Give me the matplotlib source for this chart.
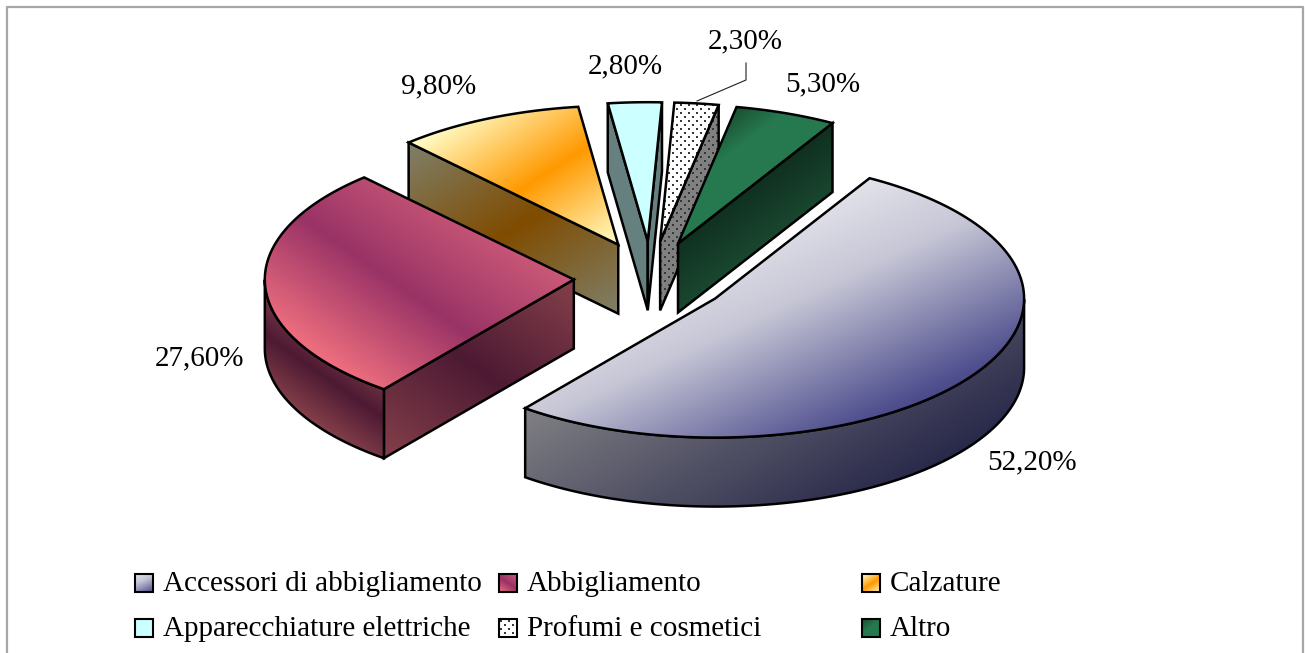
"""Exploded 3D style pie (quota per settore), drawn by hand on a pixel sized axes."""

import numpy as np
import matplotlib
matplotlib.use("Agg")
import matplotlib.pyplot as plt
from matplotlib.colors import to_rgb
from matplotlib.patches import Polygon

# -------- Data
categories = [
    "Accessori di abbigliamento",
    "Abbigliamento",
    "Calzature",
    "Apparecchiature elettriche",
    "Profumi e cosmetici",
    "Altro",
]
values = [52.2, 27.6, 9.8, 2.8, 2.3, 5.3]

# -------- Layout (pixels)
W, H = 1305, 653
CX, CY = 651, 278
RX, RY = 309, 139
DEPTH = 69
EXPLODE_X, EXPLODE_Y = 0.25, 0.265
START_ANGLE = 60.0
LABEL_POS = [(1032, 462), (200, 358), (439, 86), (625, 66), (745, 41), (823, 84)]
LEGEND_X = [135, 499, 862]
LEGEND_Y = [583, 628]
FONT = "Liberation Serif"
FONT_SIZE = 21
LW = 1.8

# -------- Styles: (normal angle of the gradient in degrees, stops)
TOP_STYLE = [
    (65, [(0, "#e2e2ea"), (0.35, "#c6c6d6"), (0.95, "#50508f"), (1, "#4a4a8c")]),
    (-55, [(0, "#f0707f"), (0.5, "#993366"), (1, "#cc5a78")]),
    (57, [(0, "#ffffcc"), (0.5, "#ff9900"), (1, "#ffffcc")]),
    (0, [(0, "#ccffff"), (1, "#ccffff")]),
    (0, [(0, "#ffffff"), (1, "#ffffff")]),
    (53, [(0, "#1a5030"), (0.45, "#267a50"), (1, "#26784e")]),
]
SIDE_STYLE = [
    (60, [(0, "#808084"), (1, "#28284a")]),
    (-55, [(0, "#85404a"), (0.5, "#4d1a33"), (1, "#85404a")]),
    (57, [(0, "#80806a"), (0.5, "#7f4c00"), (1, "#80806a")]),
    (0, [(0, "#668080"), (1, "#668080")]),
    (0, [(0, "#808080"), (1, "#808080")]),
    (53, [(0, "#103020"), (1, "#1a4830")]),
]
DOTTED = [False, False, False, False, True, False]
DOT_COLOR = (0.22, 0.22, 0.22)


def fill_gradient(ax, pts, style, z, dotted=False, lw=LW):
    """Fill a polygon with a linear gradient, dots if asked, and a black outline."""
    pts = np.asarray(pts, dtype=float)
    angle, stops = style
    x0, y0 = np.floor(pts.min(axis=0))
    x1, y1 = np.ceil(pts.max(axis=0))
    xs = np.arange(x0, x1 + 1)
    ys = np.arange(y0, y1 + 1)
    gx, gy = np.meshgrid(xs, ys)
    nx, ny = np.cos(np.radians(angle)), np.sin(np.radians(angle))
    proj = pts[:, 0] * nx + pts[:, 1] * ny
    span = max(proj.max() - proj.min(), 1e-6)
    t = np.clip((gx * nx + gy * ny - proj.min()) / span, 0, 1)

    pos = [s[0] for s in stops]
    rgb = np.array([to_rgb(s[1]) for s in stops])
    img = np.dstack([np.interp(t, pos, rgb[:, i]) for i in range(3)])

    if dotted:
        # staggered 2 px dots, 8 px apart, same texture on top and wall
        ix, iy = gx.astype(int), gy.astype(int)
        mask = ((ix % 8 < 2) & (iy % 8 < 2)) | (((ix + 4) % 8 < 2) & ((iy + 4) % 8 < 2))
        img[mask] = DOT_COLOR

    clip = Polygon(pts, closed=True, facecolor="none", edgecolor="none", zorder=z)
    ax.add_patch(clip)
    im = ax.imshow(img, extent=(x0, x1 + 1, y1 + 1, y0), aspect="auto",
                   interpolation="nearest" if dotted else "bilinear", zorder=z)
    im.set_clip_path(clip)
    ax.add_patch(Polygon(pts, closed=True, facecolor="none", edgecolor="black",
                         linewidth=lw, joinstyle="miter", zorder=z + 0.2))


def rim(apex, angles):
    rad = np.radians(angles)
    return np.column_stack([apex[0] + RX * np.cos(rad), apex[1] - RY * np.sin(rad)])


def main():
    fig = plt.figure(figsize=(W / 100, H / 100), dpi=100)
    ax = fig.add_axes([0, 0, 1, 1])
    ax.axis("off")

    # chart frame, open at the bottom because the source image was cropped
    ax.plot([7, 7, 1303, 1303], [H, 7, 7, H], color="#a6a6a6", lw=1.6, zorder=1)

    total = sum(values)
    sweep = np.array(values) / total * 360.0
    ends = START_ANGLE - np.cumsum(sweep)
    starts = ends + sweep
    mids = (starts + ends) / 2
    apexes = [
        (CX + EXPLODE_X * RX * np.cos(np.radians(m)), CY - EXPLODE_Y * RY * np.sin(np.radians(m)))
        for m in mids
    ]

    # back slices first
    order = sorted(range(len(values)), key=lambda i: apexes[i][1])
    z = 2.0
    drop = np.array([0, DEPTH])
    for i in order:
        apex = np.array(apexes[i])
        a1, a2 = starts[i], ends[i]
        angles = np.linspace(a1, a2, 400)
        edge = rim(apex, angles)

        # cut faces that look towards the viewer
        if np.cos(np.radians(a1)) < 0:
            p = rim(apex, [a1])[0]
            fill_gradient(ax, [apex, p, p + drop, apex + drop], SIDE_STYLE[i], z, DOTTED[i])
            z += 1
        if np.cos(np.radians(a2)) > 0:
            p = rim(apex, [a2])[0]
            fill_gradient(ax, [apex, p, p + drop, apex + drop], SIDE_STYLE[i], z, DOTTED[i])
            z += 1

        # outer wall, only the front half of the rim
        front = np.sin(np.radians(angles)) <= 0
        if front.any():
            wall = edge[front]
            fill_gradient(ax, np.vstack([wall, (wall + drop)[::-1]]), SIDE_STYLE[i], z, DOTTED[i])
            z += 1

        fill_gradient(ax, np.vstack([apex, edge]), TOP_STYLE[i], z, DOTTED[i])
        z += 1

    # percent labels, Italian decimal comma
    for v, (x, y) in zip(values, LABEL_POS):
        ax.text(x, y, f"{v:.2f}%".replace(".", ","), ha="center", va="center",
                family=FONT, fontsize=FONT_SIZE, color="black", zorder=z)

    # leader line of the small cosmetics slice
    ax.plot([697, 746, 746], [101, 80, 63], color="#202020", lw=0.8, zorder=z)

    # legend, three columns over two rows
    for i, name in enumerate(categories):
        col, row = i % 3, i // 3
        x, y = LEGEND_X[col], LEGEND_Y[row]
        box = [(x, y - 9), (x + 18, y - 9), (x + 18, y + 9), (x, y + 9)]
        fill_gradient(ax, box, TOP_STYLE[i], z, DOTTED[i], lw=1.5)
        ax.text(x + 28, y + 1, name, ha="left", va="center", family=FONT,
                fontsize=FONT_SIZE, color="black", zorder=z)

    ax.set_xlim(0, W)
    ax.set_ylim(H, 0)
    fig.savefig("out.png", dpi=100, facecolor="white")
    plt.close(fig)


if __name__ == "__main__":
    main()
